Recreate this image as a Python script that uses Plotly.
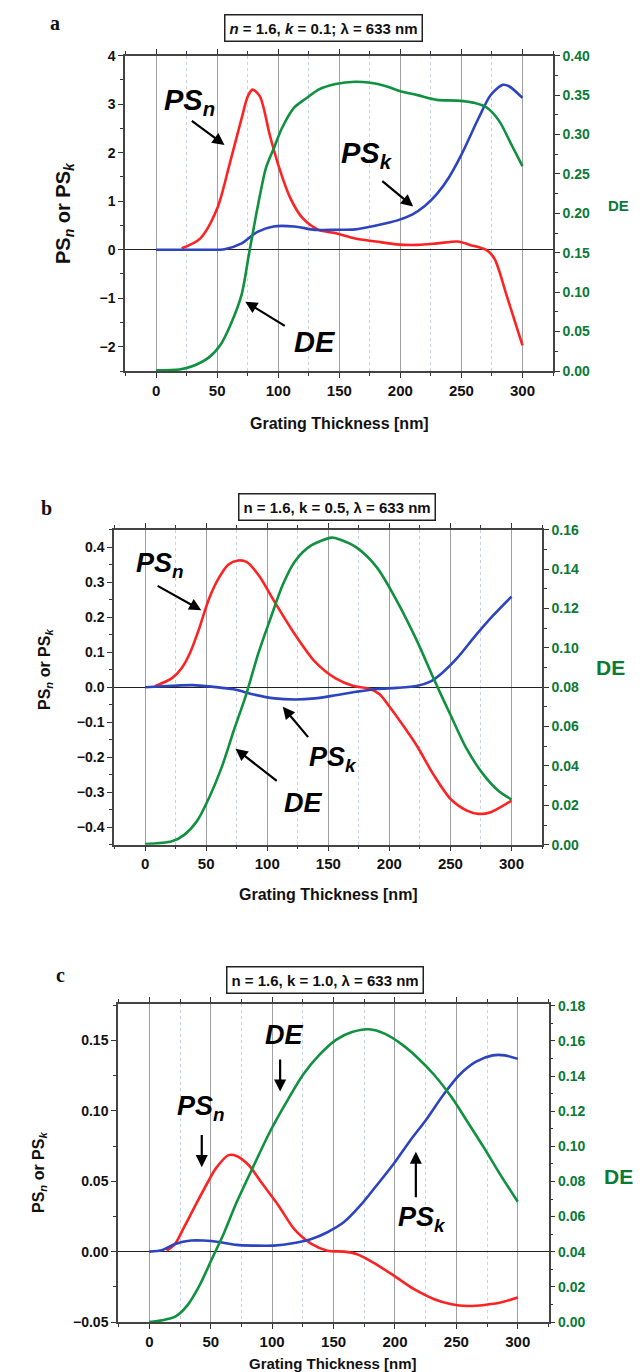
import plotly.graph_objects as go

# ---------------- data ----------------
# panel a : n = 1.6, k = 0.1
a_psn_x = [21, 36, 50, 60, 70, 75, 79, 85, 93, 100, 110, 120, 133, 147, 163, 180, 197, 214, 230, 247, 257, 270, 277, 287, 300]
a_psn_y = [0.03, 0.23, 0.85, 1.75, 2.71, 3.16, 3.30, 3.16, 2.37, 1.75, 1.06, 0.65, 0.41, 0.34, 0.23, 0.17, 0.11, 0.10, 0.13, 0.17, 0.10, 0.0, -0.18, -0.94, -1.97]
a_psk_x = [0, 20, 40, 56, 70, 83, 96, 113, 130, 147, 163, 180, 197, 210, 220, 230, 240, 250, 264, 274, 284, 289, 300]
a_psk_y = [0, 0, 0, 0.01, 0.13, 0.37, 0.48, 0.48, 0.41, 0.41, 0.42, 0.50, 0.60, 0.73, 0.90, 1.15, 1.50, 1.96, 2.71, 3.19, 3.40, 3.37, 3.13]
a_de_x = [0, 19, 29.5, 43, 53, 61, 70, 76, 83, 90, 96.5, 103, 113, 123, 133, 147, 163, 174, 187, 200, 214, 230, 247, 261, 271, 281, 291, 300]
a_de_y = [0.001, 0.002, 0.006, 0.017, 0.034, 0.059, 0.097, 0.148, 0.207, 0.258, 0.283, 0.308, 0.334, 0.346, 0.357, 0.364, 0.367, 0.366, 0.362, 0.355, 0.350, 0.344, 0.343, 0.340, 0.334, 0.317, 0.287, 0.260]

# panel b : n = 1.6, k = 0.5
b_psn_x = [8, 22, 30, 37, 44, 52, 60, 68, 76, 83, 93, 106, 123, 139, 156, 170, 183, 192, 200, 213, 223, 236.5, 250, 263, 273, 283, 300]
b_psn_y = [0.003, 0.026, 0.055, 0.10, 0.165, 0.25, 0.31, 0.35, 0.362, 0.358, 0.32, 0.244, 0.149, 0.073, 0.025, 0.004, -0.004, -0.02, -0.055, -0.118, -0.17, -0.252, -0.319, -0.352, -0.362, -0.357, -0.324]
b_psk_x = [0, 22, 39, 56, 72.6, 89, 106, 123, 139, 156, 173, 189.6, 206, 223, 233, 243, 256, 270, 285, 300]
b_psk_y = [0, 0.004, 0.006, 0.001, -0.006, -0.021, -0.032, -0.035, -0.032, -0.023, -0.013, -0.005, -0.002, 0.004, 0.015, 0.040, 0.085, 0.145, 0.205, 0.259]
b_de_x = [0, 22, 32, 42.5, 52.5, 62.5, 72.6, 82.6, 92.6, 102.7, 112.7, 122.7, 136, 153, 159.5, 173, 189.6, 206, 223, 236.5, 250, 263, 276.6, 290, 300]
b_de_y = [0.0003, 0.0017, 0.005, 0.012, 0.024, 0.039, 0.058, 0.076, 0.097, 0.115, 0.132, 0.144, 0.152, 0.156, 0.155, 0.151, 0.141, 0.124, 0.103, 0.084, 0.066, 0.049, 0.036, 0.027, 0.023]

# panel c : n = 1.6, k = 1.0
c_psn_x = [14, 21, 27.5, 37.6, 47.7, 54, 64.5, 71, 81, 91, 105, 118, 132, 145, 158.5, 168.6, 182, 199, 215.6, 232, 246, 259, 272.8, 286, 300]
c_psn_y = [0.0007, 0.0055, 0.016, 0.033, 0.0495, 0.059, 0.0686, 0.068, 0.0614, 0.0495, 0.033, 0.016, 0.0055, 0.0007, 0.0, -0.0017, -0.0076, -0.017, -0.0267, -0.0338, -0.0374, -0.0386, -0.0379, -0.0362, -0.0326]
c_psk_x = [0, 10.7, 21, 34, 44, 58, 71, 85, 101, 118, 132, 145, 158.5, 172, 185, 199, 212, 226, 239, 252.6, 266, 279.5, 289.6, 300]
c_psk_y = [0, 0.0012, 0.0055, 0.0079, 0.0079, 0.0067, 0.0048, 0.0043, 0.0043, 0.0062, 0.009, 0.0138, 0.021, 0.033, 0.047, 0.0625, 0.0785, 0.0945, 0.111, 0.1257, 0.135, 0.1395, 0.1395, 0.137]
c_de_x = [0, 10.7, 21, 31, 41, 51, 61, 71, 85, 98, 111.5, 125, 138.4, 152, 165, 178.7, 192, 205.6, 219, 232, 246, 259, 272.8, 286, 300]
c_de_y = [0, 0.001, 0.003, 0.0095, 0.021, 0.036, 0.051, 0.068, 0.089, 0.108, 0.125, 0.1406, 0.152, 0.1606, 0.165, 0.1666, 0.164, 0.158, 0.150, 0.1406, 0.128, 0.114, 0.0988, 0.0836, 0.0684]

x_ticks = [0, 50, 100, 150, 200, 250, 300]
panel_letters = ["a", "b", "c"]
panel_titles = ["<i>n</i> = 1.6, <i>k</i> = 0.1; λ = 633 nm",
                "n = 1.6, k = 0.5, λ = 633 nm",
                "n = 1.6, k = 1.0, λ = 633 nm"]
x_title = "Grating Thickness [nm]"
y_title = "PS<sub><i>n</i></sub> or PS<sub><i>k</i></sub>"
de_title = "DE"

# ---------------- styling ----------------
W, H = 641, 1372
RED = "#ff2222"
BLUE = "#2c44c0"
GREEN = "#0f9140"
DKGREEN = "#0a7a35"
SANS = "Liberation Sans"
SERIF = "Liberation Serif"


def px_x(p):
    return p / W


def px_y(p):
    return 1 - p / H


panels = [
    dict(xd=[117, 545], yd=[47.7, 363], yl=[-2.5, 4], yr=[0, 0.40], ydt=1, ymin=0.5, yfmt="d",
         rdt=0.05, rmin=0.025, data=(a_psn_x, a_psn_y, a_psk_x, a_psk_y, a_de_x, a_de_y),
         box=(315, 20), letter=(47, 15), ytitle=(57, 205, 20), detitle=(610, 198, 15), xt=(415, 16)),
    dict(xd=[106, 534], yd=[521.7, 836.7], yl=[-0.45, 0.45], yr=[0, 0.16], ydt=0.1, ymin=0.05, yfmt=".1f",
         rdt=0.02, rmin=0.01, data=(b_psn_x, b_psn_y, b_psk_x, b_psk_y, b_de_x, b_de_y),
         box=(329, 498.5), letter=(38, 500), ytitle=(37, 662, 16), detitle=(602, 659, 21), xt=(887, 16)),
    dict(xd=[110, 540.5], yd=[996, 1314], yl=[-0.05, 0.176], yr=[0, 0.181], ydt=0.05, ymin=0.025, yfmt=".2f",
         rdt=0.02, rmin=0.01, data=(c_psn_x, c_psn_y, c_psk_x, c_psk_y, c_de_x, c_de_y),
         box=(316.5, 971.5), letter=(52, 967), ytitle=(31, 1165, 16), detitle=(610, 1168, 21), xt=(1355, 15)),
]

fig = go.Figure()
layout = {}
annotations = []

for i, p in enumerate(panels):
    xa = "x" if i == 0 else f"x{i+1}"
    yl = f"y{2*i+1}" if i > 0 else "y"
    yr = f"y{2*i+2}"
    xkey = "xaxis" if i == 0 else f"xaxis{i+1}"
    ylkey = "yaxis" if i == 0 else f"yaxis{2*i+1}"
    yrkey = f"yaxis{2*i+2}"
    psn_x, psn_y, psk_x, psk_y, de_x, de_y = p["data"]
    line_kw = dict(width=2.6, shape="spline", smoothing=0.8)
    fig.add_trace(go.Scatter(x=de_x, y=de_y, mode="lines", line=dict(color=GREEN, **line_kw),
                             xaxis=xa, yaxis=yr, showlegend=False))
    fig.add_trace(go.Scatter(x=psn_x, y=psn_y, mode="lines", line=dict(color=RED, **line_kw),
                             xaxis=xa, yaxis=yl, showlegend=False))
    fig.add_trace(go.Scatter(x=psk_x, y=psk_y, mode="lines", line=dict(color=BLUE, **line_kw),
                             xaxis=xa, yaxis=yl, showlegend=False))

    layout[xkey] = dict(
        domain=[px_x(p["xd"][0]), px_x(p["xd"][1])], anchor=yl, range=[-25.5, 325],
        tickmode="array", tickvals=x_ticks, ticks="outside", ticklen=5, tickwidth=1.2,
        tickcolor="#333", showline=True, linecolor="#444", linewidth=1.5, mirror="ticks",
        showgrid=True, gridcolor="#a0a0a0", gridwidth=1,
        minor=dict(tickvals=[-25, 25, 75, 125, 175, 225, 275, 325], ticks="outside", ticklen=3,
                   tickcolor="#333", showgrid=True, gridcolor="#c8d2e4", griddash="dot", gridwidth=1),
        tickfont=dict(family=SANS, size=15, color="#111", weight="bold"),
        zeroline=False, fixedrange=True,
    )
    layout[ylkey] = dict(
        domain=[px_y(p["yd"][1]), px_y(p["yd"][0])], anchor=xa, range=p["yl"],
        dtick=p["ydt"], tick0=0, tickformat=p["yfmt"], ticks="outside", ticklen=5, tickwidth=1.2,
        tickcolor="#333", showline=True, linecolor="#444", linewidth=1.5,
        minor=dict(dtick=p["ymin"], tick0=0, ticks="outside", ticklen=3, tickcolor="#333"),
        showgrid=False, zeroline=True, zerolinecolor="#222", zerolinewidth=1.3,
        tickfont=dict(family=SANS, size=14, color="#111", weight="bold"),
        fixedrange=True,
    )
    layout[yrkey] = dict(
        overlaying=yl, side="right", anchor=xa, range=p["yr"], dtick=p["rdt"], tick0=0,
        tickformat=".2f", ticks="outside", ticklen=5, tickwidth=1.2, tickcolor="#333",
        showline=True, linecolor="#444", linewidth=1.5,
        minor=dict(dtick=p["rmin"], tick0=0, ticks="outside", ticklen=3, tickcolor="#333"),
        showgrid=False, zeroline=False,
        tickfont=dict(family=SANS, size=14, color=DKGREEN, weight="bold"),
        fixedrange=True,
    )

    # title box
    annotations.append(dict(
        x=px_x(p["box"][0]), y=px_y(p["box"][1]), xref="paper", yref="paper",
        text=f"<b>{panel_titles[i]}</b>", showarrow=False, xanchor="center", yanchor="middle",
        font=dict(family=SANS, size=15, color="#111"), bordercolor="#222", borderwidth=1.5,
        borderpad=4, bgcolor="white"))
    # panel letter
    annotations.append(dict(
        x=px_x(p["letter"][0]), y=px_y(p["letter"][1]), xref="paper", yref="paper",
        text=f"<b>{panel_letters[i]}</b>", showarrow=False, xanchor="center", yanchor="middle",
        font=dict(family=SERIF, size=20, color="#111")))
    # y title
    annotations.append(dict(
        x=px_x(p["ytitle"][0]), y=px_y(p["ytitle"][1]), xref="paper", yref="paper",
        text=f"<b>{y_title}</b>", showarrow=False, textangle=-90, xanchor="center", yanchor="middle",
        font=dict(family=SANS, size=p["ytitle"][2], color="#111")))
    # DE right title
    annotations.append(dict(
        x=px_x(p["detitle"][0]), y=px_y(p["detitle"][1]), xref="paper", yref="paper",
        text=f"<b>{de_title}</b>", showarrow=False, xanchor="center", yanchor="middle",
        font=dict(family=SANS, size=p["detitle"][2], color=DKGREEN)))
    # x title
    annotations.append(dict(
        x=(px_x(p["xd"][0]) + px_x(p["xd"][1])) / 2, y=px_y(p["xt"][0]), xref="paper", yref="paper",
        text=f"<b>{x_title}</b>", showarrow=False, xanchor="center", yanchor="middle",
        font=dict(family=SANS, size=p["xt"][1], color="#111")))

# curve labels (data coordinates) and arrows
labels = [
    # panel a
    ("x", "y", 27, 3.05, "PS<sub>n</sub>", 29),
    ("x", "y", 173, 1.95, "PS<sub>k</sub>", 29),
    ("x", "y", 130, -1.9, "DE", 29),
    # panel b
    ("x2", "y3", 12, 0.35, "PS<sub>n</sub>", 27),
    ("x2", "y3", 154, -0.205, "PS<sub>k</sub>", 27),
    ("x2", "y3", 129, -0.33, "DE", 27),
    # panel c
    ("x3", "y5", 42, 0.102, "PS<sub>n</sub>", 27),
    ("x3", "y5", 222, 0.023, "PS<sub>k</sub>", 27),
    ("x3", "y5", 110, 0.154, "DE", 27),
]
for xr, yr_, x, y, t, s in labels:
    annotations.append(dict(x=x, y=y, xref=xr, yref=yr_, text=f"<b><i>{t}</i></b>", showarrow=False,
                            xanchor="center", yanchor="middle",
                            font=dict(family=SANS, size=s, color="#000")))

arrows = [
    # (xref, yref, head x, head y, tail x, tail y)
    ("x", "y", 56, 2.16, 28, 2.68),
    ("x", "y", 210.5, 0.89, 184, 1.44),
    ("x", "y", 73, -1.07, 106.6, -1.59),
    ("x2", "y3", 46, 0.22, 9, 0.292),
    ("x2", "y3", 112.7, -0.056, 134.5, -0.147),
    ("x2", "y3", 74, -0.176, 109, -0.271),
    ("x3", "y5", 42.7, 0.060, 42.7, 0.084),
    ("x3", "y5", 217, 0.071, 217, 0.0376),
    ("x3", "y5", 106.5, 0.1138, 106.5, 0.1376),
]
for xr, yr_, hx, hy, tx, ty in arrows:
    annotations.append(dict(x=hx, y=hy, xref=xr, yref=yr_, ax=tx, ay=ty, axref=xr, ayref=yr_,
                            text="", showarrow=True, arrowhead=2, arrowsize=1.1, arrowwidth=2.2,
                            arrowcolor="#000"))

fig.update_layout(
    width=W, height=H, margin=dict(l=0, r=0, t=0, b=0, autoexpand=False),
    paper_bgcolor="white", plot_bgcolor="white", showlegend=False,
    annotations=annotations, **layout,
)

fig.write_html("out.html", include_plotlyjs=True, config=dict(displayModeBar=False))
